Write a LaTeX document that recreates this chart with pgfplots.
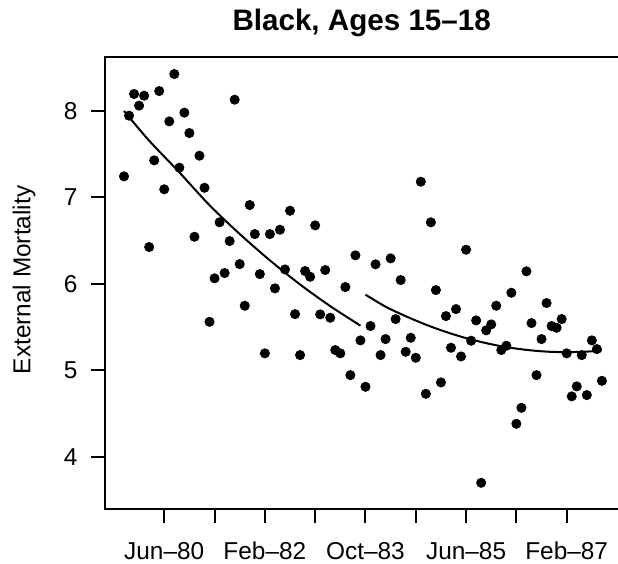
\documentclass[border=0pt]{standalone}
\usepackage{fontspec}
\setmainfont{Liberation Sans}
\usepackage{pgfplots}
\pgfplotsset{compat=1.18}
\usepackage{pgfplotstable}

% monthly external mortality, t=1 is Oct-79
\pgfplotstableread{
t y
1 7.244
2 7.946
3 8.197
4 8.062
5 8.177
6 6.426
7 7.429
8 8.231
9 7.094
10 7.880
11 8.428
12 7.344
13 7.981
14 7.745
15 6.545
16 7.483
17 7.112
18 5.561
19 6.064
20 6.712
21 6.125
22 6.495
23 8.131
24 6.229
25 5.747
26 6.912
27 6.576
28 6.113
29 5.196
30 6.576
31 5.948
32 6.626
33 6.167
34 6.846
35 5.650
36 5.176
37 6.148
38 6.082
39 6.677
40 5.647
41 6.160
42 5.608
43 5.234
44 5.196
45 5.963
46 4.944
47 6.330
48 5.346
49 4.809
50 5.512
51 6.226
52 5.176
53 5.361
54 6.295
55 5.593
56 6.044
57 5.214
58 5.376
59 5.145
60 7.182
61 4.728
62 6.712
63 5.928
64 4.860
65 5.627
66 5.261
67 5.708
68 5.160
69 6.395
70 5.342
71 5.577
72 3.698
73 5.462
74 5.531
75 5.747
76 5.234
77 5.284
78 5.897
79 4.381
80 4.566
81 6.145
82 5.546
83 4.944
84 5.361
85 5.778
86 5.512
87 5.492
88 5.593
89 5.196
90 4.698
91 4.814
92 5.176
93 4.713
94 5.346
95 5.245
96 4.878
}\mortality

\begin{document}
\begin{tikzpicture}
\begin{axis}[
  scale only axis,
  width=256.3pt, height=226pt,
  xmin=-2.7, xmax=99.2, ymin=3.395, ymax=8.625,
  axis line style={draw=none},
  tick pos=left,
  tick align=outside,
  major tick length=7pt,
  tick style={line width=1pt, black},
  xtick={9,19,...,89},
  xticklabels={Jun–80,,Feb–82,,Oct–83,,Jun–85,,Feb–87},
  ytick={4,5,6,7,8},
  ticklabel style={font=\fontsize{12.2}{14}\selectfont},
  xticklabel style={yshift=-6pt},
  yticklabel style={xshift=-3.5pt},
  /pgf/number format/assume math mode=true,
  clip=false,
]
\addplot[only marks, mark=*, mark size=2.3pt, black] table[x=t, y=y] {\mortality};
% fitted trend, before and after Oct-83
\addplot[line width=1pt, smooth, no marks, black] coordinates {
  (1,8.00) (6,7.657) (12,7.29) (18,6.91) (24,6.577) (30,6.272)
  (36,5.993) (42,5.742) (48,5.517)
};
\addplot[line width=1pt, smooth, no marks, black] coordinates {
  (49,5.875) (53,5.736) (57,5.626) (61,5.528) (65,5.444) (69,5.372)
  (73,5.314) (77,5.268) (81,5.236) (85,5.216) (89,5.210) (93,5.216) (96,5.230)
};
\draw[line width=1pt] (rel axis cs:1,0) -- (rel axis cs:0,0) -- (rel axis cs:0,1) -- (rel axis cs:1,1);
\coordinate (bl) at (rel axis cs:0,0);
\coordinate (tr) at (rel axis cs:1,1);
\coordinate (ml) at (rel axis cs:0,0.5);
\coordinate (tm) at (rel axis cs:0.5,1);
\end{axis}
\node[anchor=base, font=\bfseries\fontsize{14.8}{17}\selectfont] at ([yshift=13pt]tm) {Black, Ages 15–18};
\node[rotate=90, anchor=base, font=\fontsize{12.2}{14}\selectfont] at ([xshift=-37.5pt, yshift=1.5pt]ml) {External Mortality};
\pgfresetboundingbox
\useasboundingbox ([xshift=-52.7pt,yshift=-27.5pt]bl) rectangle ([yshift=28.5pt]tr);
\end{tikzpicture}
\end{document}
